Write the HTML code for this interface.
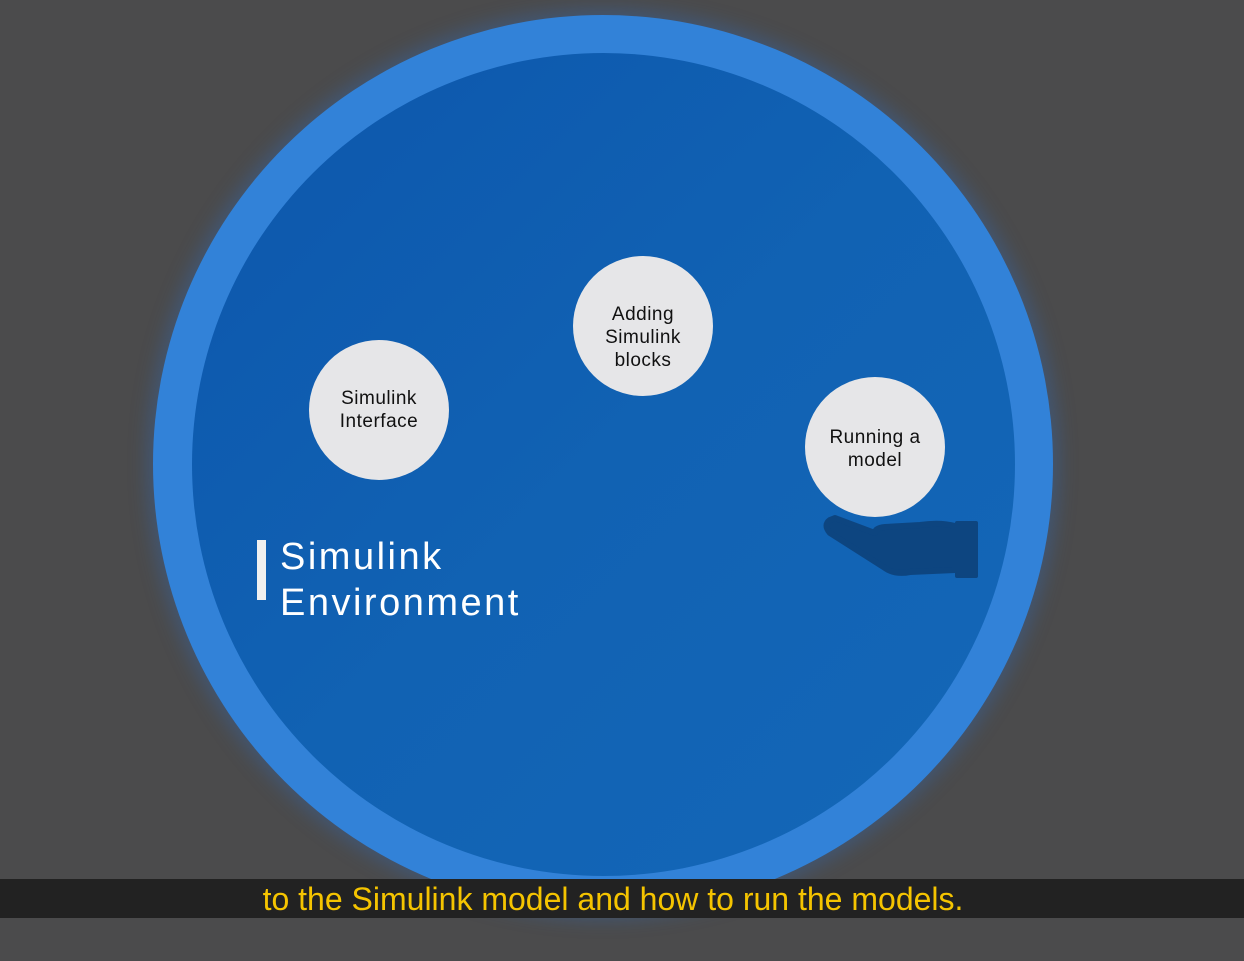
<!DOCTYPE html>
<html><head><meta charset="utf-8"><style>
html,body{margin:0;padding:0}
body{width:1244px;height:961px;background:#4b4b4c;position:relative;overflow:hidden;font-family:"Liberation Sans",sans-serif}
.ring{position:absolute;left:153px;top:15px;width:900px;height:898px;border-radius:50%;background:#3282d8;box-shadow:0 0 18px 6px rgba(50,110,190,0.35)}
.inner{position:absolute;left:192px;top:53px;width:823px;height:823px;border-radius:50%;background:linear-gradient(135deg,#0c56ac 0%,#1162b3 50%,#1467b8 100%)}
.c{position:absolute;width:140px;height:140px;border-radius:50%;background:#e6e6e8;display:flex;align-items:center;justify-content:center;text-align:center;color:#111;font-size:19px;line-height:23px;letter-spacing:0.5px;box-sizing:border-box}
.bar{position:absolute;left:257px;top:540px;width:9px;height:60px;background:#f0f0f0}
.title{position:absolute;left:280px;top:534px;color:#fff;font-size:38px;line-height:46px;letter-spacing:2.5px}
.sub{position:absolute;left:0;top:879px;width:1244px;height:39px;background:#222222}
.subt{position:absolute;left:0;top:879px;width:1226px;height:39px;line-height:40px;text-align:center;color:#f5c400;font-size:32px}
</style></head><body>
<div class="ring"></div>
<div class="inner"></div>
<div class="c" style="left:309px;top:340px;padding-top:0">Simulink<br>Interface</div>
<div class="c" style="left:573px;top:256px;padding-top:22px">Adding<br>Simulink<br>blocks</div>
<div class="c" style="left:805px;top:377px;padding-top:4px">Running a<br>model</div>
<svg style="position:absolute;left:800px;top:500px" width="200" height="100" viewBox="0 0 200 100">
<path d="M30 20 Q23 25 30 33 L85 68 Q95 75 110 72 L155 70 L155 26 Q140 22 120 25 L85 27 Q75 28 75 33 L35 18 Z" fill="#0d4580" stroke="#0d4580" stroke-width="6" stroke-linejoin="round"/>
<rect x="155" y="21" width="23" height="57" rx="2" fill="#0d4580"/>
</svg>
<div class="bar"></div>
<div class="title">Simulink<br>Environment</div>
<div class="sub"></div>
<div class="subt">to the Simulink model and how to run the models.</div>
</body></html>
